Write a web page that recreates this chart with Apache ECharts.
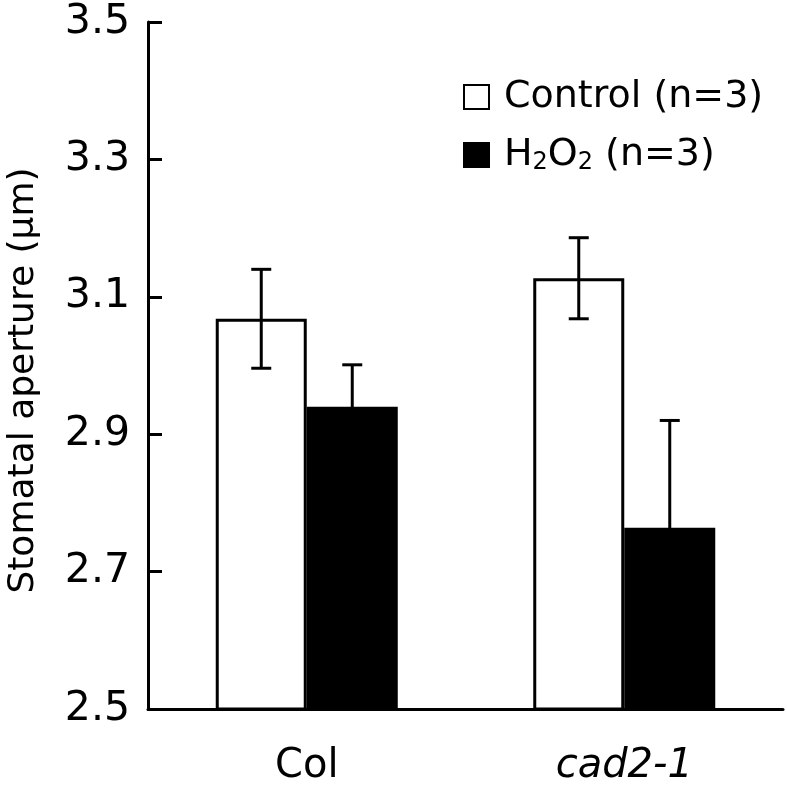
<!DOCTYPE html>
<html>
<head>
<meta charset="utf-8">
<script src="https://cdn.jsdelivr.net/npm/echarts@6/dist/echarts.min.js"></script>
<style>
html,body{margin:0;padding:0;background:#fff;}
#chart{width:787px;height:786px;}
</style>
</head>
<body>
<div id="chart"></div>
<script>
const categories = ['Col', 'cad2-1'];
const controlMean = [3.068, 3.127];
const controlErr = [0.072, 0.059];
const h2o2Mean = [2.940, 2.764];
const h2o2Err = [0.061, 0.156];
const yTicks = [2.5, 2.7, 2.9, 3.1, 3.3, 3.5];

const FONT = 'DejaVu Sans';
const BAR_W = 91;

function errData(means, errs) {
  return means.map((m, i) => [i, m - errs[i], m + errs[i]]);
}

function errRender(offset) {
  return function (params, api) {
    const x = api.value(0);
    const lo = api.coord([x, api.value(1)]);
    const hi = api.coord([x, api.value(2)]);
    const cx = lo[0] + offset;
    const cap = 10;
    const style = { stroke: '#000', lineWidth: 3, fill: null };
    return {
      type: 'group',
      children: [
        { type: 'line', shape: { x1: cx, y1: hi[1], x2: cx, y2: lo[1] }, style },
        { type: 'line', shape: { x1: cx - cap, y1: hi[1], x2: cx + cap, y2: hi[1] }, style },
        { type: 'line', shape: { x1: cx - cap, y1: lo[1], x2: cx + cap, y2: lo[1] }, style }
      ]
    };
  };
}

const chart = echarts.init(document.getElementById('chart'), null, { renderer: 'canvas' });
chart.setOption({
  animation: false,
  backgroundColor: '#fff',
  grid: { left: 148, right: 4, top: 22, bottom: 77, containLabel: false, outerBoundsMode: 'none' },
  legend: {
    orient: 'vertical',
    left: 463,
    top: 78,
    padding: 0,
    icon: 'rect',
    itemWidth: 25,
    itemHeight: 24,
    itemGap: 20,
    data: ['Control', 'H2O2'],
    formatter: function (name) {
      if (name === 'Control') return '{n|Control (n=3)}';
      return '{n|H}{s|2}{n|O}{s|2}{n| (n=3)}';
    },
    textStyle: {
      fontFamily: FONT,
      fontSize: 38,
      color: '#000',
      padding: [0, 0, 0, 10],
      rich: {
        n: { fontFamily: FONT, fontSize: 38, lineHeight: 40, color: '#000' },
        s: { fontFamily: FONT, fontSize: 24, lineHeight: 24, verticalAlign: 'bottom', color: '#000' }
      }
    }
  },
  xAxis: {
    type: 'category',
    data: categories,
    axisLine: { lineStyle: { color: '#000', width: 3 } },
    axisTick: { show: false },
    axisLabel: {
      margin: 38,
      fontFamily: FONT,
      fontSize: 40,
      color: '#000',
      formatter: function (v) { return v === 'cad2-1' ? '{i|' + v + '}' : v; },
      rich: { i: { fontFamily: FONT, fontSize: 40, fontStyle: 'italic', color: '#000' } }
    },
    splitLine: { show: false }
  },
  yAxis: {
    type: 'value',
    min: yTicks[0],
    max: yTicks[yTicks.length - 1],
    interval: 0.2,
    name: 'Stomatal aperture (μm)',
    nameLocation: 'middle',
    nameGap: 106,
    nameTextStyle: { fontFamily: FONT, fontSize: 36, color: '#000', padding: [0, 30, 0, 0] },
    axisLine: { show: true, lineStyle: { color: '#000', width: 3 } },
    axisTick: { show: true, inside: true, length: 14, lineStyle: { color: '#000', width: 3 } },
    axisLabel: {
      margin: 18,
      fontFamily: FONT,
      fontSize: 41,
      color: '#000',
      formatter: function (v) { return v.toFixed(1); }
    },
    splitLine: { show: false }
  },
  series: [
    {
      name: 'Control',
      type: 'bar',
      data: controlMean,
      barWidth: BAR_W,
      barGap: '0%',
      itemStyle: { color: '#fff', borderColor: '#000', borderWidth: 3 },
      z: 2
    },
    {
      name: 'H2O2',
      type: 'bar',
      data: h2o2Mean,
      barWidth: BAR_W,
      barGap: '0%',
      itemStyle: { color: '#000', borderColor: '#000', borderWidth: 3 },
      z: 2
    },
    {
      type: 'custom',
      data: errData(controlMean, controlErr),
      renderItem: errRender(-BAR_W / 2),
      encode: { x: 0, y: [1, 2] },
      z: 5,
      silent: true
    },
    {
      type: 'custom',
      data: errData(h2o2Mean, h2o2Err),
      renderItem: errRender(BAR_W / 2),
      encode: { x: 0, y: [1, 2] },
      z: 5,
      silent: true
    }
  ]
});
</script>
</body>
</html>
